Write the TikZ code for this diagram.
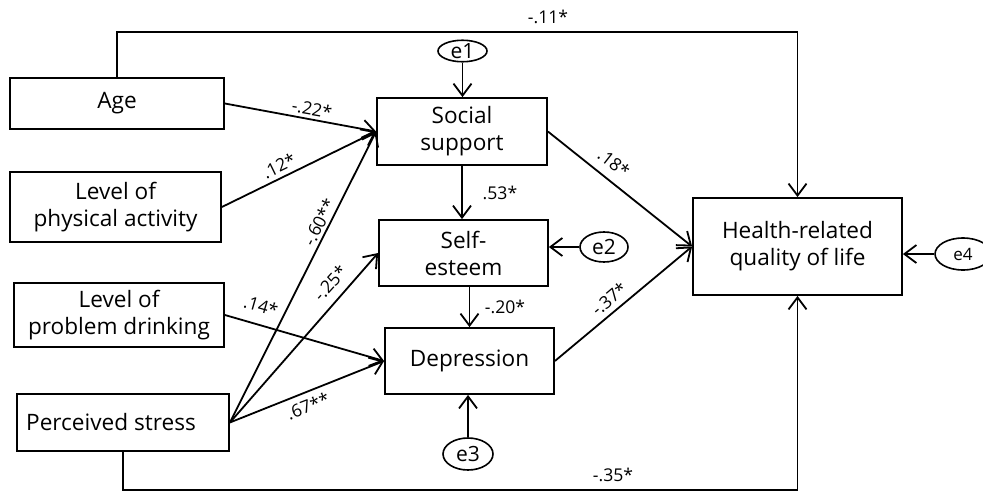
\documentclass[tikz,border=0pt]{standalone}
\usepackage{fontspec}
\setmainfont{Open Sans}
\usetikzlibrary{arrows.meta,shapes.geometric}
\begin{document}
\begin{tikzpicture}[x=0.5pt,y=-0.5pt,
  box/.style={draw,line width=0.9pt,inner sep=0pt,align=center,font=\fontsize{11.3}{13.5}\selectfont},
  err/.style={draw,ellipse,line width=0.8pt,inner sep=0pt,font=\fontsize{10.5}{12}\selectfont},
  arr/.style={line width=0.9pt,-{Straight Barb[length=6pt,width=9pt,line width=0.9pt]}},
  coef/.style={font=\fontsize{8.8}{10}\selectfont,inner sep=0.5pt}]
\useasboundingbox (0,0) rectangle (983,492);
% boxes
\node[box,minimum width=107pt,minimum height=25.5pt] (age) at (117,103.5) {Age};
\node[box,minimum width=105.5pt,minimum height=35pt] (pa) at (115.5,207) {Level of\\physical activity};
\node[box,minimum width=105pt,minimum height=32pt] (pd) at (119,315) {Level of\\problem drinking};
\node[box,minimum width=106pt,minimum height=28.5pt] (ps) at (123,422.5) {};
\node[font=\fontsize{11.3}{13.5}\selectfont,inner sep=0pt] (pst) at (111,422.5) {Perceived stress};
\node[box,minimum width=85pt,minimum height=33.5pt] (ss) at (462,131.5) {Social\\support};
\node[box,minimum width=84.5pt,minimum height=33pt] (se) at (463.5,253) {Self-\\esteem};
\node[box,minimum width=84.5pt,minimum height=33pt] (dep) at (469.5,361) {Depression};
\node[box,minimum width=104.5pt,minimum height=48.5pt] (hq) at (797.5,246.5) {Health-related\\quality of life};
% errors
\node[err,minimum width=24.5pt,minimum height=9pt] (e1) at (462.5,51) {e1};
\node[err,minimum width=24pt,minimum height=15pt] (e2) at (604,247) {e2};
\node[err,minimum width=25pt,minimum height=16pt] (e3) at (468,454) {e3};
\node[err,minimum width=28pt,minimum height=16pt,font=\fontsize{8.5}{10}\selectfont] (e4) at (963,254) {e4};
\coordinate (ytop) at (0,32);
\coordinate (ybot) at (0,490);
% paths
\draw[arr] (age.north) |- (hq.north |- ytop) -- (hq.north);
\draw[arr] (ps.south) |- (hq.south |- ybot) -- (hq.south);
\draw[arr] (e1.south) -- (e1.south |- ss.north);
\draw[arr] (age.east) -- (ss.west);
\draw[arr] (pa.east) -- (ss.west);
\draw[arr] (ps.east) -- (ss.west);
\draw[arr] (ps.east) -- (se.west);
\draw[arr] (ps.east) -- (dep.west);
\draw[arr] (pd.east) -- (dep.west);
\draw[arr] (ss.south) -- (ss.south |- se.north);
\draw[arr] (dep.north |- se.south) -- (dep.north);
\draw[arr] (e2.west) -- (e2.west -| se.east);
\draw[arr] (e3.north) -- (e3.north |- dep.south);
\draw[arr] (ss.east) -- (hq.west);
\draw[arr] (dep.east) -- (hq.west);
\draw[arr] (e4.west) -- (e4.west -| hq.east);
% coefficients
\node[coef] (c11) at (548,17) {-.11*};
\node[coef] (c35) at (613,475) {-.35*};
\node[coef] (c53) at (500,193) {.53*};
\node[coef] (c20) at (505,307) {-.20*};
\node[coef,rotate=-10] (c22) at (312,109) {-.22*};
\node[coef,rotate=26] (c12) at (279,166) {.12*};
\node[coef,rotate=63] (c60) at (319,222) {-.60**};
\node[coef,rotate=48] (c25) at (330,283) {-.25*};
\node[coef,rotate=21] (c67) at (308,406) {.67**};
\node[coef,rotate=-16] (c14) at (261,306) {.14*};
\node[coef,rotate=-38] (c18) at (614,163) {.18*};
\node[coef,rotate=40] (c37) at (609,299) {-.37*};
\end{tikzpicture}
\end{document}
